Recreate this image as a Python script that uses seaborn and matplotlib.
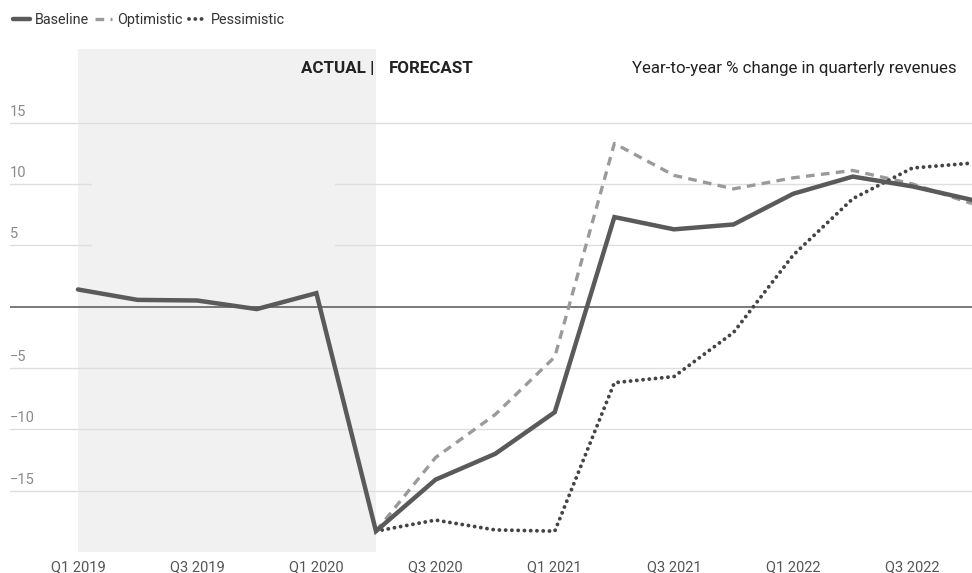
import numpy as np
import pandas as pd
import matplotlib
matplotlib.use("Agg")
import matplotlib.pyplot as plt
import matplotlib.transforms as mtransforms
from matplotlib.patches import Rectangle
import seaborn as sns

# Quarters and year-to-year % change in quarterly revenues
quarters = ["Q1 2019", "Q2 2019", "Q3 2019", "Q4 2019",
            "Q1 2020", "Q2 2020", "Q3 2020", "Q4 2020",
            "Q1 2021", "Q2 2021", "Q3 2021", "Q4 2021",
            "Q1 2022", "Q2 2022", "Q3 2022", "Q4 2022"]
baseline = [1.4, 0.55, 0.5, -0.2, 1.1, -18.3, -14.1, -12.0,
            -8.6, 7.3, 6.3, 6.7, 9.2, 10.6, 9.8, 8.7]
optimistic = [np.nan, np.nan, np.nan, np.nan, np.nan, -18.3, -12.3, -8.8,
              -4.1, 13.3, 10.7, 9.6, 10.5, 11.1, 10.0, 8.4]
pessimistic = [np.nan, np.nan, np.nan, np.nan, np.nan, -18.3, -17.4, -18.2,
               -18.3, -6.2, -5.7, -2.1, 4.2, 8.8, 11.3, 11.7]
y_ticks = [15, 10, 5, -5, -10, -15]
x_tick_labels = quarters[::2]
last_actual = "Q2 2020"

sns.set_theme(style="white")
plt.rcParams["font.family"] = ["Roboto", "DejaVu Sans"]

df = pd.DataFrame({"quarter": quarters, "idx": np.arange(len(quarters)),
                   "Baseline": baseline, "Optimistic": optimistic,
                   "Pessimistic": pessimistic})

fig = plt.figure(figsize=(9.72, 5.73), dpi=100)
W, H = 972, 573
ax = fig.add_axes([10 / W, 1 - 552 / H, 962 / W, (552 - 49) / H])

shade = "#f1f1f1"
x_split = quarters.index(last_actual)
ax.axvspan(0, x_split, color=shade, zorder=0.3, lw=0)

# horizontal grid and zero line
for v in y_ticks:
    ax.axhline(v, color="#dedede", lw=1.0, zorder=0.6)
ax.axhline(0, color="#555555", lw=1.1, zorder=2)
# patch in the actual period where the upper grid lines stop
ax.add_patch(Rectangle((0.23, 3.0), 4.08, 9.0, facecolor=shade,
                       edgecolor="none", zorder=0.8))

sns.lineplot(data=df, x="idx", y="Baseline", ax=ax, color="#5a5a5a",
             linewidth=3.2, label="Baseline", zorder=4)
sns.lineplot(data=df, x="idx", y="Optimistic", ax=ax, color="#9a9a9a",
             linewidth=2.4, label="Optimistic", zorder=3)
sns.lineplot(data=df, x="idx", y="Pessimistic", ax=ax, color="#444444",
             linewidth=2.8, label="Pessimistic", zorder=3)

lines = ax.get_lines()
series_lines = [l for l in lines if l.get_label() in ("Baseline", "Optimistic", "Pessimistic")]
for l in series_lines:
    l.set_solid_joinstyle("miter")
    if l.get_label() == "Optimistic":
        l.set_linestyle((0, (2.6, 1.9)))
    elif l.get_label() == "Pessimistic":
        l.set_linestyle((0, (0.01, 1.6)))
        l.set_dash_capstyle("round")

ax.set_xlim(-1.14, 15.0)
ax.set_ylim(-20, 21)
ax.set_xlabel("")
ax.set_ylabel("")
ax.set_xticks(np.arange(0, len(quarters), 2))
ax.set_xticklabels(x_tick_labels, color="#555555", fontsize=10.5)
ax.tick_params(axis="x", length=0, pad=6)
ax.set_yticks([])
for s in ax.spines.values():
    s.set_visible(False)

# y labels sit above their grid lines at the left edge
trans = mtransforms.offset_copy(ax.get_yaxis_transform(), fig=fig, x=0, y=4, units="dots")
for v in y_ticks:
    txt = str(v).replace("-", "\u2212")
    ax.text(0, v, txt, transform=trans, ha="left", va="bottom",
            color="#8a8a8a", fontsize=10.5)

ax.text(x_split - 0.03, 19.4, "ACTUAL |", ha="right", va="center",
        fontsize=12.2, fontweight="bold", color="#222222")
ax.text(x_split + 0.22, 19.4, "FORECAST", ha="left", va="center",
        fontsize=12.2, fontweight="bold", color="#222222")
ax.text(0.984, 19.4, "Year-to-year % change in quarterly revenues",
        transform=ax.get_yaxis_transform(), ha="right", va="center",
        fontsize=12.2, color="#222222")

ax.get_legend().remove()
leg = fig.legend(handles=series_lines, labels=[l.get_label() for l in series_lines],
                 loc="upper left", bbox_to_anchor=(0.0, 1.0), ncol=3, frameon=False,
                 fontsize=10.4, handlelength=1.15, handletextpad=0.35,
                 columnspacing=0.45, borderaxespad=0.5)
for t in leg.get_texts():
    t.set_color("#333333")

fig.savefig("out.png", dpi=100)
